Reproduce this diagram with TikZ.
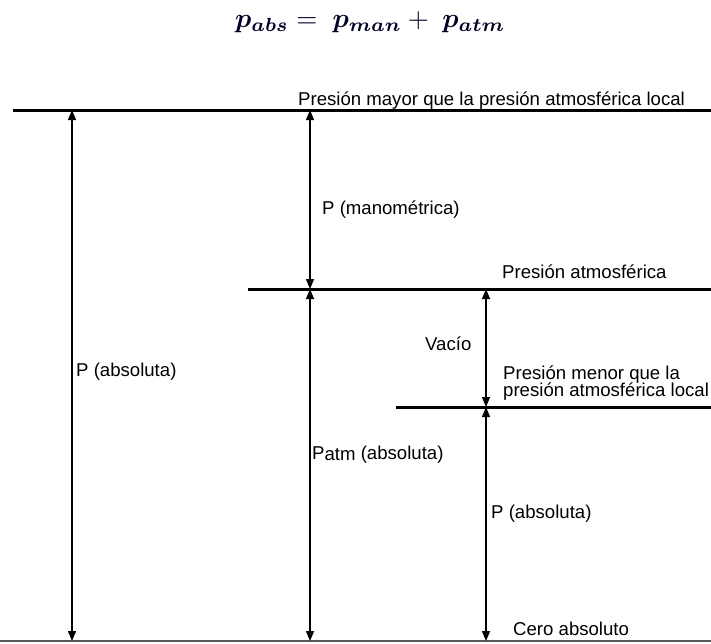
\documentclass[tikz,border=0pt]{standalone}
\usepackage{amsmath}
\usepackage{fontspec}
\setmainfont{Liberation Sans}
\usetikzlibrary{arrows.meta}
\begin{document}
\begin{tikzpicture}[x=1pt,y=-1pt,
  level/.style={line width=3pt},
  dim/.style={line width=1.2pt,{Triangle[length=10pt,width=8pt]}-{Triangle[length=10pt,width=8pt]}},
  lbl/.style={anchor=base west,inner sep=0pt,font=\fontsize{18.6}{19}\selectfont}]
\useasboundingbox (0,0) rectangle (711,643);
% formula
\node[anchor=base west,inner sep=0pt,text=black!85!blue] (formula) at (235,27)
  {\resizebox{270pt}{!}{$\boldsymbol{p_{abs}} =\; \boldsymbol{p_{man}} + \;\boldsymbol{p_{atm}}$}};
% levels
\coordinate (t0) at (13,110);   \coordinate (t1) at (711,110);
\coordinate (a0) at (248,289);  \coordinate (a1) at (711,289);
\coordinate (v0) at (396,407);  \coordinate (v1) at (711,407);
\coordinate (z0) at (0,641);    \coordinate (z1) at (711,641);
\draw[level] (t0) -- (t1);
\draw[level] (a0) -- (a1);
\draw[level] (v0) -- (v1);
\draw[line width=2pt,black!65] (z0) -- (z1);
% arrow end points
\coordinate (L1) at (72,110);  \coordinate (L2) at (72,641);
\coordinate (M1) at (310,110); \coordinate (M2) at (310,289); \coordinate (M3) at (310,641);
\coordinate (R1) at (486,289); \coordinate (R2) at (486,407); \coordinate (R3) at (486,641);
\draw[dim] (L1) -- (L2);
\draw[dim] (M1) -- (M2);
\draw[dim] (M2) -- (M3);
\draw[dim] (R1) -- (R2);
\draw[dim] (R2) -- (R3);
% labels
\node[lbl] (tmayor) at (298,105) {Presión mayor que la presión atmosférica local};
\node[lbl] (tman) at (322,214) {P (manométrica)};
\node[lbl] (tatm) at (502,278) {Presión atmosférica};
\node[lbl] (tvac) at (425,350) {Vacío};
\node[lbl] (tmen1) at (503,379) {Presión menor que la};
\node[lbl] (tmen2) at (503,396) {presión atmosférica local};
\node[lbl] (tabsL) at (76,376) {P (absoluta)};
\node[lbl] (tpatm) at (312,459) {P\raisebox{-1.5pt}{atm} (absoluta)};
\node[lbl] (tabsR) at (491,518) {P (absoluta)};
\node[lbl] (tcero) at (513,635) {Cero absoluto};
\end{tikzpicture}
\end{document}
